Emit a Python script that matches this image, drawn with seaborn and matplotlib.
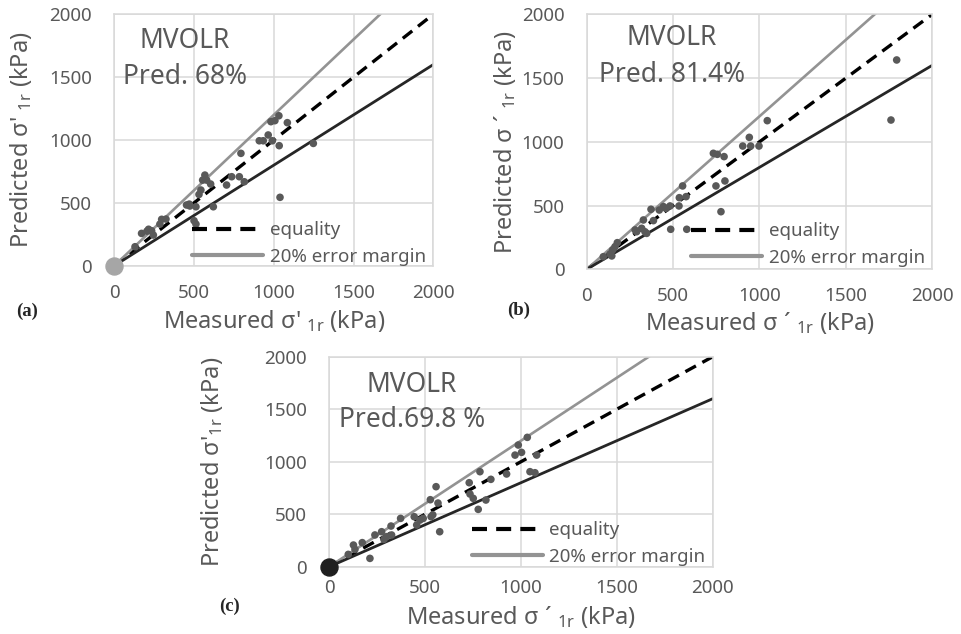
import numpy as np
import pandas as pd
import seaborn as sns
import matplotlib.pyplot as plt
import matplotlib as mpl

sns.set_style("white")
mpl.rcParams['font.family'] = ['Noto Sans', 'DejaVu Sans']
mpl.rcParams['mathtext.default'] = 'regular'

# measured vs predicted sigma'_1r (kPa)
a_meas = [130, 171, 205, 215, 234, 245, 286, 297, 324, 453, 470, 474, 500, 512, 512, 531, 543, 554, 568,
          579, 604, 621, 704, 736, 784, 794, 815, 909, 934, 965, 991, 1034, 982, 1007, 1032, 1085, 1039, 1248]
a_pred = [151, 257, 275, 290, 278, 244, 331, 369, 371, 483, 490, 475, 358, 469, 331, 567, 602, 681, 721,
          681, 650, 469, 642, 708, 708, 894, 668, 994, 994, 1040, 994, 955, 1146, 1154, 1193, 1138, 544, 973]

b_meas = [96, 135, 145, 150, 164, 177, 280, 289, 318, 328, 337, 347, 372, 386, 420, 444, 459, 482, 486,
          534, 536, 555, 575, 579, 733, 756, 748, 777, 800, 795, 903, 941, 949, 997, 1045, 1761, 1794]
b_pred = [99, 120, 105, 152, 178, 209, 309, 295, 322, 387, 295, 282, 471, 382, 465, 492, 478, 497, 314,
          497, 562, 654, 570, 314, 910, 902, 654, 452, 693, 884, 967, 1035, 967, 967, 1166, 1171, 1642]

c_meas = [99, 126, 134, 172, 212, 238, 273, 285, 299, 325, 322, 372, 443, 456, 473, 490, 527, 531, 540,
          557, 567, 576, 730, 734, 751, 777, 786, 817, 843, 925, 969, 986, 1003, 1033, 1047, 1082, 1073]
c_pred = [117, 206, 165, 229, 79, 302, 333, 260, 286, 302, 387, 460, 476, 397, 444, 460, 638, 476, 494,
          762, 606, 333, 800, 692, 651, 546, 905, 635, 832, 883, 1063, 1159, 1089, 1232, 905, 1063, 895]

ref_x = np.array([0, 2000])
margin = 0.2
ticks = [0, 500, 1000, 1500, 2000]

panels = [
    dict(meas=a_meas, pred=a_pred, tag='(a)', score='Pred. 68%',
         ylab="Predicted σ' $_{1r}$ (kPa)", xlab="Measured σ' $_{1r}$ (kPa)",
         rect=[0.1188, 0.5809, 0.3316, 0.3965], origin='#A6A6A6', xpad=13,
         txt=(0.222, 0.895, 0.752), leg=(0.243, 0.0), xlc=-0.168, ylc=-0.252, tagpos=(0.028, 0.509)),
    dict(meas=b_meas, pred=b_pred, tag='(b)', score='Pred. 81.4%',
         ylab="Predicted σ ´ $_{1r}$ (kPa)", xlab="Measured σ ´ $_{1r}$ (kPa)",
         rect=[0.6099, 0.5752, 0.3592, 0.4022], origin=None, xpad=13,
         txt=(0.246, 0.906, 0.762), leg=(0.301, 0.01), xlc=-0.16, ylc=-0.199, tagpos=(0.5395, 0.511)),
    dict(meas=c_meas, pred=c_pred, tag='(c)', score='Pred.69.8 %',
         ylab="Predicted σ'$_{1r}$ (kPa)", xlab="Measured σ ´ $_{1r}$ (kPa)",
         rect=[0.3423, 0.1062, 0.3985, 0.3311], origin='#1F1F1F', xpad=9,
         txt=(0.216, 0.866, 0.699), leg=(0.371, 0.005), xlc=-0.178, ylc=-0.272, tagpos=(0.239, 0.044)),
]

fig = plt.figure(figsize=(9.62, 6.34), dpi=100)

for p in panels:
    ax = fig.add_axes(p['rect'])
    df = pd.DataFrame({'Measured': p['meas'], 'Predicted': p['pred']})

    ax.plot(ref_x, ref_x, color='black', lw=2.4, linestyle=(0, (3.6, 2.2)), label='equality', zorder=2)
    ax.plot(ref_x, ref_x * (1 + margin), color='#939393', lw=1.9, label='20% error margin', zorder=2)
    ax.plot(ref_x, ref_x * (1 - margin), color='#262626', lw=2.0, zorder=2)

    sns.scatterplot(data=df, x='Measured', y='Predicted', color='#595959', s=30,
                    edgecolor='none', ax=ax, zorder=3)
    if p['origin']:
        ax.scatter([0], [0], s=150, color=p['origin'], zorder=4, clip_on=False)

    ax.set_xlim(0, 2000)
    ax.set_ylim(0, 2000)
    ax.set_xticks(ticks)
    ax.set_yticks(ticks)
    ax.grid(True, color='#D9D9D9', lw=1.1)
    for s in ax.spines.values():
        s.set_color('#D9D9D9')
        s.set_linewidth(1.1)
    ax.tick_params(axis='both', length=0, labelsize=13.5, labelcolor='#595959')
    ax.tick_params(axis='x', pad=p['xpad'])
    ax.tick_params(axis='y', pad=16)

    ax.set_xlabel(p['xlab'], fontsize=17, color='#595959')
    ax.set_ylabel(p['ylab'], fontsize=17, color='#595959')
    ax.xaxis.set_label_coords(0.5, p['xlc'])
    ax.yaxis.set_label_coords(p['ylc'], 0.5)

    tx, ty1, ty2 = p['txt']
    ax.text(tx, ty1, 'MVOLR', transform=ax.transAxes, ha='center', va='center', fontsize=19, color='#595959')
    ax.text(tx, ty2, p['score'], transform=ax.transAxes, ha='center', va='center', fontsize=19, color='#595959')

    leg = ax.legend(loc='lower left', bbox_to_anchor=p['leg'], frameon=False, fontsize=13.5,
                    handlelength=3.8, handletextpad=0.35, borderpad=0, borderaxespad=0, labelspacing=0.45)
    for t in leg.get_texts():
        t.set_color('#595959')
    for h in leg.get_lines():
        h.set_linewidth(3)

    fig.text(p['tagpos'][0], p['tagpos'][1], p['tag'], ha='center', va='center',
             fontsize=13.5, fontweight='bold', family='Liberation Serif')

fig.savefig('out.png', dpi=100)
